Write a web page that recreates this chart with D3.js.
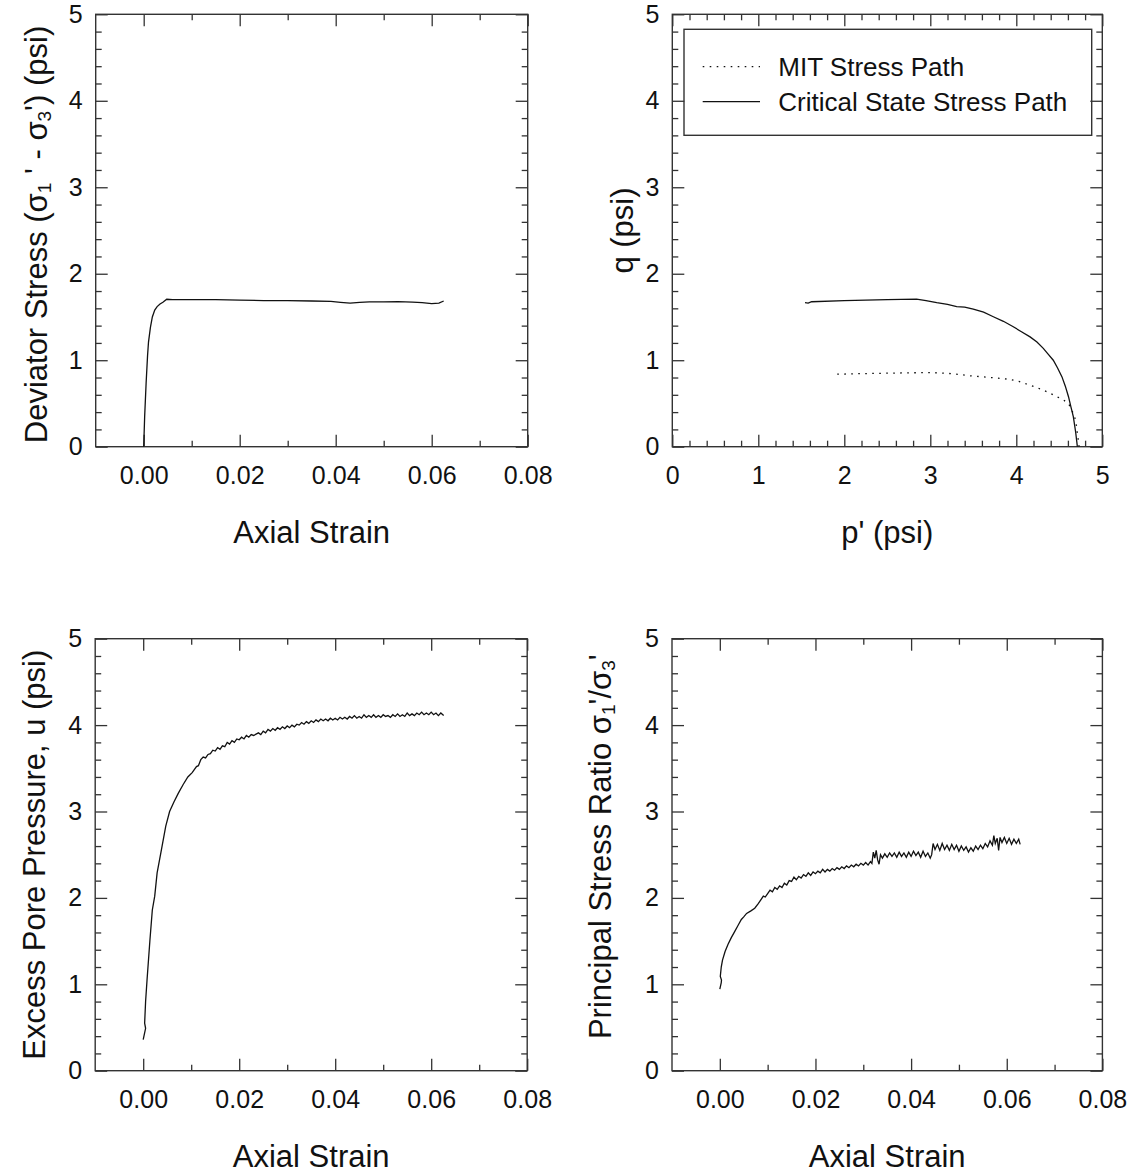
<!DOCTYPE html>
<html>
<head>
<meta charset="utf-8">
<script src="https://cdn.jsdelivr.net/npm/d3@7"></script>
<style>
  body { margin: 0; background: #fff; }
  svg { display: block; font-family: "Liberation Sans", Arial, sans-serif; }
  .frame { fill: none; stroke: #333; stroke-width: 1.4px; }
  .tick line { stroke: #333; stroke-width: 1.3px; }
  .tick text { font-size: 25px; fill: #111; }
  .domain { display: none; }
  .title { font-size: 31px; fill: #111; }
  .curve { fill: none; stroke: #111; stroke-width: 1.3px; }
</style>
</head>
<body>
<svg id="chart" width="1142" height="1174"></svg>
<script>
// tick values
const strainMajor = [0, 0.02, 0.04, 0.06, 0.08];
const strainMinor = [0.01, 0.03, 0.05, 0.07];
const unitMajor = [0, 1, 2, 3, 4, 5];
const unitMinor = d3.range(0.2, 5, 0.2).filter((v) => Math.abs(v - Math.round(v)) > 0.01);

// deviator stress vs axial strain
const devStrain = [0, 0.0002, 0.0005, 0.0008, 0.001, 0.0014, 0.0018, 0.0023, 0.0028, 0.0034, 0.004, 0.0048, 0.006, 0.01, 0.015, 0.02, 0.025, 0.03, 0.035, 0.039, 0.041, 0.043, 0.045, 0.047, 0.05, 0.053, 0.056, 0.058, 0.06, 0.0615, 0.0625];
const devStress = [0, 0.35, 0.73, 1.05, 1.21, 1.38, 1.50, 1.58, 1.62, 1.65, 1.67, 1.705, 1.70, 1.70, 1.70, 1.695, 1.69, 1.69, 1.685, 1.68, 1.67, 1.66, 1.67, 1.675, 1.675, 1.678, 1.672, 1.665, 1.655, 1.66, 1.685];

// stress paths (p', q)
const cspP = [4.71, 4.69, 4.663, 4.635, 4.607, 4.57, 4.53, 4.48, 4.43, 4.37, 4.314, 4.24, 4.16, 4.06, 3.965, 3.85, 3.733, 3.62, 3.50, 3.40, 3.307, 3.2, 3.075, 2.95, 2.84, 2.5, 2.0, 1.62, 1.58, 1.543];
const cspQ = [0.0, 0.17, 0.347, 0.46, 0.578, 0.70, 0.81, 0.91, 1.0, 1.07, 1.137, 1.21, 1.27, 1.33, 1.387, 1.45, 1.503, 1.555, 1.59, 1.615, 1.62, 1.645, 1.665, 1.69, 1.707, 1.70, 1.69, 1.676, 1.66, 1.665];
const mitP = [4.73, 4.72, 4.71, 4.70, 4.683, 4.64, 4.605, 4.55, 4.488, 4.40, 4.314, 4.22, 4.12, 4.03, 3.927, 3.70, 3.462, 3.25, 3.035, 2.8, 2.5, 2.2, 1.865];
const mitQ = [0.0, 0.08, 0.155, 0.24, 0.328, 0.44, 0.50, 0.54, 0.571, 0.615, 0.655, 0.69, 0.725, 0.755, 0.779, 0.80, 0.82, 0.845, 0.856, 0.855, 0.85, 0.845, 0.837];

// excess pore pressure vs axial strain [strain, u]
const poreCurve = [
  [0, 0.36], [0.0005, 0.49], [0.0003, 0.55], [0.0005, 0.8], [0.0008, 1.05], [0.0014, 1.51], [0.0019, 1.86],
  [0.0024, 2.02], [0.0029, 2.29], [0.0038, 2.56], [0.0047, 2.83], [0.0055, 3.0], [0.0064, 3.11], [0.0073, 3.21],
  [0.0083, 3.31], [0.0093, 3.40], [0.0102, 3.45], [0.0111, 3.52], [0.0115, 3.53],
  [0.0120, 3.60], [0.0125, 3.63], [0.0130, 3.62], [0.0135, 3.66], [0.0140, 3.67], [0.0145, 3.71], [0.0150, 3.70],
  [0.0155, 3.74], [0.0160, 3.72], [0.0165, 3.76], [0.0170, 3.75], [0.0175, 3.80], [0.0180, 3.78], [0.0185, 3.82],
  [0.0190, 3.80], [0.0195, 3.84], [0.0200, 3.83], [0.0205, 3.86], [0.0210, 3.84], [0.0215, 3.88], [0.0220, 3.86],
  [0.0225, 3.89], [0.0230, 3.88], [0.0240, 3.91], [0.0245, 3.89], [0.0250, 3.93], [0.0255, 3.91], [0.0260, 3.95],
  [0.0265, 3.93], [0.0270, 3.96], [0.0275, 3.94], [0.0280, 3.97], [0.0285, 3.95], [0.0290, 3.98], [0.0295, 3.96],
  [0.0300, 3.99], [0.0305, 3.97], [0.0310, 4.00], [0.0315, 3.98], [0.0320, 4.01], [0.0325, 4.00], [0.0330, 4.03],
  [0.0335, 4.01], [0.0340, 4.04], [0.0345, 4.02], [0.0350, 4.05], [0.0355, 4.03], [0.0360, 4.06], [0.0365, 4.04],
  [0.0370, 4.07], [0.0375, 4.05], [0.0380, 4.07], [0.0385, 4.05], [0.0390, 4.08], [0.0395, 4.06], [0.0400, 4.08],
  [0.0405, 4.06], [0.0410, 4.09], [0.0415, 4.07], [0.0420, 4.09], [0.0425, 4.07], [0.0430, 4.10], [0.0435, 4.08],
  [0.0440, 4.11], [0.0445, 4.08], [0.0450, 4.10], [0.0455, 4.08], [0.0460, 4.12], [0.0465, 4.09], [0.0470, 4.11],
  [0.0475, 4.09], [0.0480, 4.12], [0.0485, 4.09], [0.0490, 4.11], [0.0495, 4.09], [0.0500, 4.12], [0.0505, 4.10],
  [0.0510, 4.11], [0.0515, 4.09], [0.0520, 4.12], [0.0525, 4.10], [0.0530, 4.13], [0.0535, 4.10], [0.0540, 4.12],
  [0.0545, 4.10], [0.0550, 4.14], [0.0555, 4.11], [0.0560, 4.13], [0.0565, 4.11], [0.0570, 4.14], [0.0575, 4.12],
  [0.0580, 4.15], [0.0585, 4.12], [0.0590, 4.14], [0.0595, 4.12], [0.0600, 4.15], [0.0605, 4.12], [0.0610, 4.14],
  [0.0615, 4.11], [0.0620, 4.14], [0.0626, 4.11]
];

// principal stress ratio vs axial strain [strain, ratio]
const ratioCurve = [
  [0, 0.945], [0.0003, 1.02], [0.00035, 1.05], [0.0001, 1.09], [0.0003, 1.2], [0.00056, 1.28], [0.0011, 1.38],
  [0.0017, 1.46], [0.0024, 1.54], [0.0031, 1.61], [0.0038, 1.68], [0.0045, 1.75], [0.0050, 1.78], [0.0056, 1.82],
  [0.0065, 1.85], [0.0073, 1.88], [0.0080, 1.93], [0.0085, 1.97], [0.0091, 2.02], [0.0095, 2.01],
  [0.0100, 2.05], [0.0105, 2.09], [0.0110, 2.07], [0.0115, 2.12], [0.0120, 2.10], [0.0125, 2.14], [0.0130, 2.12],
  [0.0135, 2.17], [0.0140, 2.15], [0.0145, 2.20], [0.0150, 2.19], [0.0155, 2.24], [0.0160, 2.21], [0.0165, 2.25],
  [0.0170, 2.23], [0.0175, 2.27], [0.0180, 2.25], [0.0185, 2.29], [0.0190, 2.26], [0.0195, 2.30], [0.0200, 2.28],
  [0.0205, 2.31], [0.0210, 2.29], [0.0215, 2.33], [0.0220, 2.30], [0.0225, 2.33], [0.0230, 2.31], [0.0235, 2.34],
  [0.0240, 2.32], [0.0245, 2.35], [0.0250, 2.33], [0.0255, 2.36], [0.0260, 2.34], [0.0265, 2.37], [0.0270, 2.35],
  [0.0275, 2.38], [0.0280, 2.36], [0.0285, 2.39], [0.0290, 2.37], [0.0295, 2.40], [0.0300, 2.38], [0.0305, 2.41],
  [0.0310, 2.38], [0.0315, 2.42], [0.0318, 2.40], [0.0321, 2.53], [0.0324, 2.46], [0.0327, 2.55], [0.0330, 2.44],
  [0.0333, 2.39], [0.0336, 2.50], [0.0340, 2.46], [0.0345, 2.51], [0.0350, 2.47], [0.0355, 2.52], [0.0360, 2.48],
  [0.0365, 2.52], [0.0370, 2.47], [0.0375, 2.53], [0.0380, 2.48], [0.0385, 2.52], [0.0390, 2.47], [0.0395, 2.53],
  [0.0400, 2.48], [0.0405, 2.54], [0.0410, 2.49], [0.0415, 2.53], [0.0420, 2.47], [0.0425, 2.54], [0.0430, 2.48],
  [0.0435, 2.52], [0.0440, 2.46], [0.0443, 2.50], [0.0446, 2.63], [0.0450, 2.56], [0.0455, 2.62], [0.0460, 2.55],
  [0.0465, 2.63], [0.0470, 2.56], [0.0475, 2.61], [0.0480, 2.55], [0.0485, 2.62], [0.0490, 2.56], [0.0495, 2.61],
  [0.0500, 2.54], [0.0505, 2.60], [0.0510, 2.55], [0.0515, 2.59], [0.0520, 2.53], [0.0525, 2.58], [0.0530, 2.54],
  [0.0535, 2.60], [0.0540, 2.56], [0.0545, 2.61], [0.0550, 2.57], [0.0555, 2.63], [0.0560, 2.59], [0.0565, 2.66],
  [0.0570, 2.61], [0.0573, 2.72], [0.0576, 2.63], [0.0580, 2.69], [0.0583, 2.55], [0.0586, 2.70], [0.0590, 2.64],
  [0.0595, 2.70], [0.0600, 2.63], [0.0605, 2.69], [0.0610, 2.62], [0.0615, 2.68], [0.0620, 2.63], [0.0625, 2.68],
  [0.0628, 2.62]
];

const legendLabels = ["MIT Stress Path", "Critical State Stress Path"];

const svg = d3.select('#chart');

// builds one framed panel with inward ticks on all four sides
function makePanel(opts) {
  let g = svg.append('g').attr('transform', 'translate(' + opts.left + ',' + opts.top + ')');
  let x = d3.scaleLinear().domain(opts.xDomain).range([0, opts.width]);
  let y = d3.scaleLinear().domain([0, 5]).range([opts.height, 0]);

  let major = 12, minor = 6;

  g.append('g').attr('transform', 'translate(0,' + opts.height + ')')
    .call(d3.axisBottom(x).tickValues(opts.xMajor).tickSize(-major).tickPadding(20).tickFormat(opts.xFormat));
  g.append('g').attr('transform', 'translate(0,' + opts.height + ')')
    .call(d3.axisBottom(x).tickValues(opts.xMinor).tickSize(-minor).tickFormat(''));
  g.append('g').call(d3.axisTop(x).tickValues(opts.xMajor).tickSize(-major).tickFormat(''));
  g.append('g').call(d3.axisTop(x).tickValues(opts.xMinor).tickSize(-minor).tickFormat(''));

  g.append('g').call(d3.axisLeft(y).tickValues(unitMajor).tickSize(-major).tickPadding(13).tickFormat(d3.format('d')));
  g.append('g').call(d3.axisLeft(y).tickValues(unitMinor).tickSize(-minor).tickFormat(''));
  g.append('g').attr('transform', 'translate(' + opts.width + ',0)')
    .call(d3.axisRight(y).tickValues(unitMajor).tickSize(-major).tickFormat(''));
  g.append('g').attr('transform', 'translate(' + opts.width + ',0)')
    .call(d3.axisRight(y).tickValues(unitMinor).tickSize(-minor).tickFormat(''));

  g.selectAll('.tick text').attr('font-family', null).attr('font-size', null);

  g.append('rect').attr('class', 'frame')
    .attr('width', opts.width).attr('height', opts.height);

  g.append('text').attr('class', 'title')
    .attr('text-anchor', 'middle')
    .attr('x', opts.width / 2)
    .attr('y', opts.height + 96)
    .text(opts.xTitle);

  let yt = g.append('text').attr('class', 'title')
    .attr('text-anchor', 'middle')
    .attr('transform', 'translate(' + opts.yTitleX + ',' + (opts.height / 2 + (opts.yTitleDy || 0)) + ') rotate(-90)');
  opts.yTitle.forEach((part) => {
    let t = yt.append('tspan').text(part.t);
    if(part.sub) t.attr('font-size', '19px').attr('baseline-shift', '-22%');
    if(part.sup) t.attr('baseline-shift', '12%');
  });

  return {g, x, y};
}

const lineOf = (x, y) => d3.line().x((d) => x(d[0])).y((d) => y(d[1]));
const strainFmt = d3.format('.2f');

// top-left: deviator stress
let p1 = makePanel({
  left: 95.7, top: 14.3, width: 432, height: 432.4,
  xDomain: [-0.01, 0.08], xMajor: strainMajor, xMinor: strainMinor, xFormat: strainFmt,
  xTitle: 'Axial Strain', yTitleX: -49, yTitleDy: 4,
  yTitle: [{t: 'Deviator Stress (σ'}, {t: '1', sub: true}, {t: ' \''}, {t: ' - σ'}, {t: '3', sub: true}, {t: '\') (psi)'}]
});
p1.g.append('path').attr('class', 'curve')
  .attr('d', lineOf(p1.x, p1.y)(devStrain.map((s, i) => [s, devStress[i]])));

// top-right: stress paths
let p2 = makePanel({
  left: 672.3, top: 14.3, width: 430, height: 432.4,
  xDomain: [0, 5], xMajor: unitMajor, xMinor: unitMinor, xFormat: d3.format('d'),
  xTitle: 'p\' (psi)', yTitleX: -39,
  yTitle: [{t: 'q  (psi)'}]
});
p2.g.append('path').attr('class', 'curve')
  .attr('stroke-dasharray', '1.6 5.4')
  .attr('d', lineOf(p2.x, p2.y)(mitP.map((p, i) => [p, mitQ[i]])));
p2.g.append('path').attr('class', 'curve')
  .attr('d', lineOf(p2.x, p2.y)(cspP.map((p, i) => [p, cspQ[i]])));

// legend
let lg = p2.g.append('g').attr('transform', 'translate(11.7,15)');
lg.append('rect').attr('class', 'frame').attr('width', 407.7).attr('height', 106);
legendLabels.forEach((label, i) => {
  let row = lg.append('g').attr('transform', 'translate(0,' + (37.4 + i * 35) + ')');
  row.append('line').attr('class', 'curve')
    .attr('x1', 18.7).attr('x2', 76)
    .attr('stroke-dasharray', i === 0 ? '1.6 5.4' : null);
  row.append('text').attr('x', 94.3).attr('dy', '0.35em')
    .attr('font-size', '26px').attr('fill', '#111').text(label);
});

// bottom-left: pore pressure
let p3 = makePanel({
  left: 95.2, top: 638.7, width: 432, height: 432,
  xDomain: [-0.01, 0.08], xMajor: strainMajor, xMinor: strainMinor, xFormat: strainFmt,
  xTitle: 'Axial Strain', yTitleX: -50,
  yTitle: [{t: 'Excess Pore Pressure, u (psi)'}]
});
p3.g.append('path').attr('class', 'curve').attr('d', lineOf(p3.x, p3.y)(poreCurve));

// bottom-right: principal stress ratio
let p4 = makePanel({
  left: 672, top: 638.7, width: 430.4, height: 432,
  xDomain: [-0.01, 0.08], xMajor: strainMajor, xMinor: strainMinor, xFormat: strainFmt,
  xTitle: 'Axial Strain', yTitleX: -61, yTitleDy: -8,
  yTitle: [{t: 'Principal Stress Ratio σ'}, {t: '1', sub: true}, {t: '\'/σ'}, {t: '3', sub: true}, {t: '\''}]
});
p4.g.append('path').attr('class', 'curve').attr('d', lineOf(p4.x, p4.y)(ratioCurve));
</script>
</body>
</html>
